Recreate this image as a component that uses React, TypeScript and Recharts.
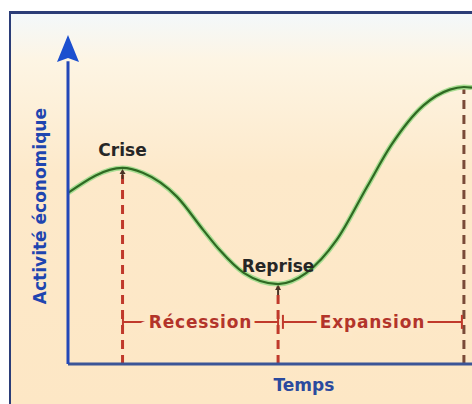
import { ComposedChart, Line, XAxis, YAxis, ReferenceLine, ReferenceDot } from 'recharts';

// économie: cycle d'activité (échelle 0-100)
const time = [0, 13.5, 18.5, 27, 33.5, 37.5, 43.5, 52, 59, 66.5, 74, 80, 88, 94.5, 98, 100];
const activity = [52, 59.6, 58.1, 50.8, 40.7, 34.7, 27.7, 24.3, 27.7, 37.7, 53.8, 66.5, 78.6, 83.4, 84.2, 84];

const turningNames = ['Crise', 'Reprise'];
const turningTimes = [13.5, 52];
const turningLevels = [59.6, 24.3];
const cycleEndTime = 98;
const cycleEndLevel = 84.2;

const phaseNames = ['Récession', 'Expansion'];
const phaseStarts = [13.6, 53.2];
const phaseEnds = [52, 97.5];
const phaseLevel = 12.8;

const xLabel = 'Temps';
const xLabelAt = 58.4;
const yLabel = 'Activité économique';
const yLabelAt = 48;

const data = time.map((t, i) => ({ time: t, activity: activity[i] }));

const FONT = '"DejaVu Sans", Verdana, sans-serif';
const BG = '#fde8c8';

const PhaseBracket = (props: any) => {
  const { x1, x2, y1, name } = props;
  const mid = (x1 + x2) / 2;
  return (
    <g>
      <line x1={x1} y1={y1} x2={x2} y2={y1} stroke="#c0392b" strokeWidth={2} />
      <line x1={x1} y1={y1 - 7} x2={x1} y2={y1 + 7} stroke="#c0392b" strokeWidth={2} />
      <line x1={x2} y1={y1 - 7} x2={x2} y2={y1 + 7} stroke="#c0392b" strokeWidth={2} />
      <text
        x={mid}
        y={y1 + 6}
        textAnchor="middle"
        fontFamily={FONT}
        fontWeight="bold"
        fontSize={17}
        letterSpacing={0.8}
        fill="#b3342a"
        stroke={BG}
        strokeWidth={9}
        paintOrder="stroke"
      >
        {name}
      </text>
    </g>
  );
};

const TurningMark = (props: any) => {
  const { cx, cy, name } = props;
  return (
    <g>
      <path d={`M${cx},${cy + 1} L${cx - 3},${cy + 6} L${cx + 3},${cy + 6} Z`} fill="#4a3426" />
      <line x1={cx} y1={cy + 5} x2={cx} y2={cy + 11} stroke="#4a3426" strokeWidth={2} />
      <text
        x={cx}
        y={cy - 12}
        textAnchor="middle"
        fontFamily={FONT}
        fontWeight="bold"
        fontSize={17}
        fill="#262626"
      >
        {name}
      </text>
    </g>
  );
};

const AxisArrow = (props: any) => {
  const { cx, cy } = props;
  return <path d={`M${cx},${cy} L${cx - 11},${cy + 27} L${cx},${cy + 23} L${cx + 11},${cy + 27} Z`} fill="#1c4fcf" />;
};

const YTitle = (props: any) => {
  const { cx, cy } = props;
  const x = cx - 28;
  return (
    <text
      x={x}
      y={cy}
      transform={`rotate(-90 ${x} ${cy})`}
      textAnchor="middle"
      dominantBaseline="central"
      fontFamily={FONT}
      fontWeight="bold"
      fontSize={17}
      fill="#1f45b0"
    >
      {yLabel}
    </text>
  );
};

const XTitle = (props: any) => {
  const { cx, cy } = props;
  return (
    <text
      x={cx}
      y={cy + 27}
      textAnchor="middle"
      fontFamily={FONT}
      fontWeight="bold"
      fontSize={17}
      fill="#2b4a9e"
    >
      {xLabel}
    </text>
  );
};

export default function App() {
  return (
    <div style={{ position: 'absolute', left: 0, top: 0, width: 472, height: 404, background: '#fff', overflow: 'hidden' }}>
      <div
        style={{
          position: 'absolute',
          left: 9,
          top: 11,
          right: 0,
          bottom: 0,
          borderTop: '3px solid #2b3d78',
          borderLeft: '2px solid #2b3d78',
          background: 'linear-gradient(to bottom, #f3f8fb 0px, #fdf5e4 45px, #fde9ca 160px, #fde7c5 100%)',
        }}
      />
      <div style={{ position: 'absolute', left: 0, top: 0 }}>
        <ComposedChart width={472} height={404} data={data} margin={{ top: 35, right: 0, bottom: 40, left: 68 }}>
          <XAxis dataKey="time" type="number" domain={[0, 100]} hide />
          <YAxis type="number" domain={[0, 100]} hide />

          {turningTimes.map((t, i) => (
            <ReferenceLine
              key={turningNames[i]}
              segment={[{ x: t, y: 0 }, { x: t, y: turningLevels[i] }]}
              stroke="#c0392b"
              strokeWidth={3}
              strokeDasharray="9 6"
            />
          ))}
          <ReferenceLine
            segment={[{ x: cycleEndTime, y: 0 }, { x: cycleEndTime, y: cycleEndLevel }]}
            stroke="#7a4a38"
            strokeWidth={3}
            strokeDasharray="9 6"
          />

          {phaseNames.map((name, i) => (
            <ReferenceLine
              key={name}
              segment={[{ x: phaseStarts[i], y: phaseLevel }, { x: phaseEnds[i], y: phaseLevel }]}
              shape={(p: any) => <PhaseBracket {...p} name={name} />}
            />
          ))}

          <Line type="monotone" dataKey="activity" stroke="#a9dd92" strokeWidth={5} dot={false} isAnimationActive={false} />
          <Line type="monotone" dataKey="activity" stroke="#2f6a22" strokeWidth={2.2} dot={false} isAnimationActive={false} />

          {turningTimes.map((t, i) => (
            <ReferenceDot
              key={turningNames[i] + '-dot'}
              x={t}
              y={turningLevels[i]}
              shape={(p: any) => <TurningMark {...p} name={turningNames[i]} />}
            />
          ))}

          <ReferenceLine y={0} stroke="#3b5597" strokeWidth={3} />
          <ReferenceLine segment={[{ x: 0, y: 0 }, { x: 0, y: 92 }]} stroke="#2347b8" strokeWidth={3} />
          <ReferenceDot x={0} y={100} shape={(p: any) => <AxisArrow {...p} />} />
          <ReferenceDot x={0} y={yLabelAt} shape={(p: any) => <YTitle {...p} />} />
          <ReferenceDot x={xLabelAt} y={0} shape={(p: any) => <XTitle {...p} />} />
        </ComposedChart>
      </div>
    </div>
  );
}
